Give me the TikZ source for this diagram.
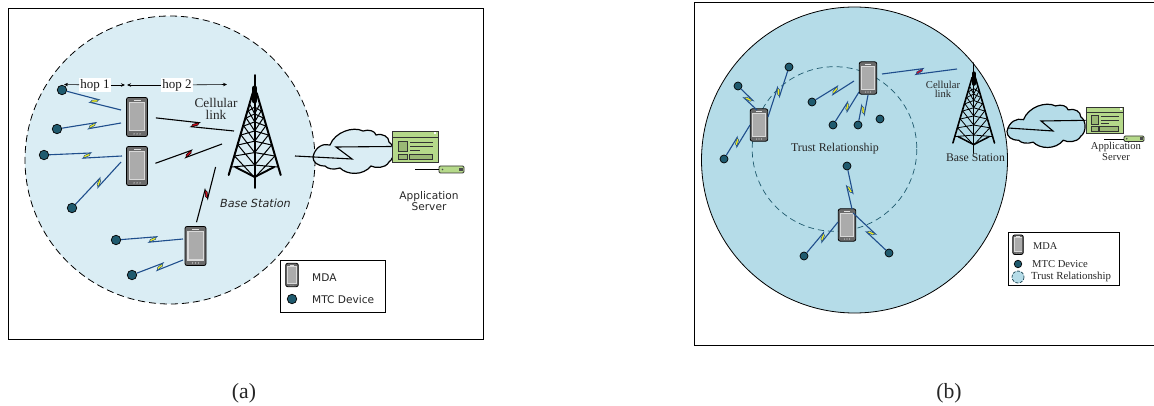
\documentclass[tikz,border=0pt]{standalone}
\usepackage{fontspec}
\setmainfont{Liberation Serif}
\newfontfamily\djv{DejaVu Sans}
\usetikzlibrary{calc,arrows.meta}
\definecolor{skya}{HTML}{DAEDF4}
\definecolor{skyb}{HTML}{B5DCE8}
\definecolor{devc}{HTML}{1F5A6E}
\definecolor{lnkb}{HTML}{1F4E8C}
\definecolor{srv}{HTML}{B5D98A}
\definecolor{yel}{HTML}{F5F020}
\definecolor{rd}{HTML}{D01020}
\newcommand{\fs}[1]{\fontsize{#1}{#1}\selectfont}
\tikzset{
  panel/.style={draw=black,line width=0.9pt},
  device/.style={circle,draw=black,line width=0.7pt,fill=devc,inner sep=0pt,minimum size=#1},
  phonebody/.style={draw=black,line width=0.8pt,fill=black!58,rounded corners=2pt,inner sep=0pt},
  bluelink/.style={draw=lnkb,line width=1.1pt},
  blacklink/.style={draw=black,line width=1.1pt},
  hoparrow/.style={-{Stealth[length=4pt,width=3.5pt]},line width=0.6pt},
  cloudshape/.style={draw=black,line width=1.2pt},
  jag/.style={draw=black,line width=1.1pt},
  lab/.style={inner sep=0pt,align=center,text=black!85},
  labl/.style={inner sep=0pt,anchor=west,text=black!85},
  legendbox/.style={draw=black,line width=0.8pt,fill=white},
}
% phone: name, x, y, scale
\newcommand{\phone}[4]{%
  \node[phonebody,minimum width=21pt*#4,minimum height=39pt*#4] (#1) at (#2,#3) {};
  \begin{scope}[shift={(#2,#3)},scale=#4]
    \fill[white!85!black] (-8.4,-15) rectangle (8.4,14.5);
    \fill[black!33] (-7,-13.7) rectangle (7,13);
    \fill[white!88!black] (-3.5,-17.3) rectangle (3.5,-16);
    \foreach \q in {-3,0,3} \fill[white!85!black] (\q,16.9) circle (0.65);
  \end{scope}}
% tower: x, y of the top, scale
\newcommand{\tower}[3]{%
  \begin{scope}[shift={(#1,#2)},scale=#3,line cap=round]
    \draw[line width=1.6pt*#3] (0,0) -- (0,113);
    \draw[line width=5pt*#3] (0,13) -- (0,26);
    \draw[line width=2pt*#3] (-2,18) -- (-26,100);
    \draw[line width=2pt*#3] (2,18) -- (26,100);
    \draw[line width=1.9pt*#3] (-19.5,92) -- (0,102) -- (19.5,92);
    \foreach \a/\b in {30/36,36/43,43/51,51/60,60/70,70/81,81/92}{
      \pgfmathsetmacro{\wa}{3+(\a-25)*23/75}
      \pgfmathsetmacro{\wb}{3+(\b-25)*23/75}
      \pgfmathsetmacro{\ca}{\a+0.45*\wa}
      \pgfmathsetmacro{\cb}{\b+0.45*\wb}
      \draw[line width=1pt*#3] (-\wa,\a) -- (0,\cb) (0,\ca) -- (-\wb,\b);
      \draw[line width=1pt*#3] (\wa,\a) -- (0,\cb) (0,\ca) -- (\wb,\b);
    }
  \end{scope}}
% cloud: x, y of top-left, x scale, y scale, fill
\newcommand{\cloud}[5]{%
  \begin{scope}[shift={(#1,#2)},xscale=#3,yscale=#4]
    \draw[cloudshape,fill=#5] (0,29) .. controls (2,19) and (10,15) .. (17,17)
      .. controls (22,4) and (40,-2) .. (50,3)
      .. controls (56,1) and (62,3) .. (63,7)
      .. controls (70,5) and (76,9) .. (76,14)
      .. controls (82,18) and (82,30) .. (76,34)
      .. controls (72,41) and (62,40) .. (58,38)
      .. controls (50,48) and (34,47) .. (27,40)
      .. controls (20,42) and (15,41) .. (12,38)
      .. controls (4,38) and (0,34) .. (0,29) -- cycle;
  \end{scope}}
% server window: name, x, y of top-left, x scale, y scale
\newcommand{\serverwin}[5]{%
  \node[draw=black!80,line width=0.9pt,fill=srv,inner sep=0pt,minimum width=46pt*#4,minimum height=31pt*#5] (#1) at ({#2+23*#4},{#3+15.5*#5}) {};
  \begin{scope}[shift={(#2,#3)},xscale=#4,yscale=#5,draw=black!80,line width=0.6pt]
    \draw (0,6) -- (46,6);
    \draw[fill=srv!85!black] (6,10) rectangle (15,20);
    \draw[line width=0.8pt] (18,11) -- (41,11) (18,15.5) -- (41,15.5);
    \draw[line width=0.8pt] (18,19) -- (28,19);
    \draw[fill=srv!85!black] (6,23) rectangle (15,28);
    \draw[fill=srv!85!black] (17,23) rectangle (40,28);
    \fill[white] (42,1.5) rectangle (44,3.5);
  \end{scope}}
% small server unit: x, y of top-left, w, h
\newcommand{\srvunit}[4]{%
  \draw[draw=black!80,line width=0.9pt,fill=srv,rounded corners=1.2pt] (#1,#2) rectangle ({#1+#3},{#2+#4});
  \fill[black!70] ({#1+#3*0.8},{#2+#4*0.25}) rectangle ({#1+#3*0.95},{#2+#4*0.75});
  \fill[black!70] ({#1+#3*0.14},{#2+#4*0.5}) circle (0.9);}
% lightning link: [style], from, to, position, fill
\newcommand{\blink}[5][]{%
  \coordinate (bM) at ($(#2)!#4!(#3)$);
  \coordinate (bF) at ($(bM)!3.5pt!(#3)$);
  \coordinate (bR) at ($(bM)!-3.5pt!(#3)$);
  \coordinate (bP) at ($(bF)!2.6pt!90:(#3)$);
  \coordinate (bQ) at ($(bR)!2.6pt!-90:(#3)$);
  \coordinate (bX) at ($(bM)!2.6pt!(#3)$);
  \coordinate (bY) at ($(bM)!-2.6pt!(#3)$);
  \draw[#1] (#2) -- (bP) -- (bQ) -- (#3);
  \filldraw[#1,shorten <=0pt,line width=0.5pt,fill=#5] (bP) -- (bX) -- (bQ) -- (bY) -- cycle;}
\begin{document}
\begin{tikzpicture}[x=1pt,y=-1pt]
\useasboundingbox (0,0) rectangle (1154,406);
% ---------- panel a
\draw[panel] (8.5,8) rectangle (483,339);
\fill[skya] (170,160) ellipse [x radius=145pt,y radius=144pt];
\draw[line width=0.8pt,dash pattern=on 7pt off 4pt] (170,160) ellipse [x radius=145pt,y radius=144pt];
\cloud{313}{128}{1}{1}{skya}
\tower{254.7}{75}{1}
\serverwin{srva}{392}{131}{1}{1}
\coordinate (ja1) at (295,156);
\coordinate (ja2) at (352,159);
\coordinate (ja3) at (336,147);
\draw[jag] (ja1) -- (ja2) -- (ja3) -- (srva.west);
\coordinate (sa) at (415,169);
\srvunit{439}{166}{25}{7}
\coordinate (sae) at (439,169);
\draw[line width=0.7pt] (sa) -- (sae);
\foreach \n/\x/\y in {da1/62/90,da2/57/129,da3/44/155,da4/72/208,da5/116/240,da6/132/275}
  \node[device=9.5pt] (\n) at (\x,\y) {};
\phone{pa1}{137}{117}{1}
\phone{pa2}{137}{166}{1}
\phone{pa3}{195.5}{246}{1}
\coordinate (ea1) at (121,110);
\coordinate (ea2) at (121,123);
\coordinate (ea3) at (122,156);
\coordinate (ea4) at (121,162);
\coordinate (ea5) at (183,239);
\coordinate (ea6) at (183,260);
\blink[bluelink]{da1}{ea1}{.55}{yel}
\blink[bluelink]{da2}{ea2}{.55}{yel}
\blink[bluelink]{da3}{ea3}{.55}{yel}
\blink[bluelink]{da4}{ea4}{.55}{yel}
\blink[bluelink]{da5}{ea5}{.55}{yel}
\blink[bluelink]{da6}{ea6}{.55}{yel}
\coordinate (ta1) at (234,131);
\coordinate (ta2) at (222,144);
\coordinate (ta3) at (215.6,167);
\blink[blacklink,shorten <=8pt]{pa1.east}{ta1}{.55}{rd}
\blink[blacklink,shorten <=8pt]{pa2.east}{ta2}{.55}{rd}
\blink[blacklink,shorten <=4pt]{pa3.north}{ta3}{.54}{rd}
% hop labels
\node[fill=white,inner sep=1pt,text=black!90] (hop1) at (95,85) {\fs{13}hop 1};
\node[fill=white,inner sep=1pt,text=black!90] (hop2) at (177,85) {\fs{13}hop 2};
\coordinate (h1l) at (64,84.5);
\coordinate (h1r) at (125,85);
\coordinate (h2l) at (127,85);
\coordinate (h2r) at (227,84.5);
\draw[hoparrow] (hop1) -- (h1l);
\draw[hoparrow] (hop1) -- (h1r);
\draw[hoparrow] (hop2) -- (h2l);
\draw[hoparrow] (hop2) -- (h2r);
\node[lab,font=\fontsize{13.3}{11.5}\selectfont] (cella) at (216,109) {Cellular\\link};
\node[lab,font=\djv\fontsize{11.2}{12}\selectfont\itshape] (bsa) at (255.5,203) {Base Station};
\node[lab,font=\djv\fontsize{10.6}{10}\selectfont] (asa) at (429,201.5) {Application\\Server};
% legend a
\node[legendbox,minimum width=104.7pt,minimum height=52.5pt,inner sep=0pt] (lega) at (332.6,286.2) {};
\phone{lap}{292}{275}{0.6}
\node[device=9.5pt] (lad) at (292,299) {};
\node[labl] (lat1) at (312,278) {\djv\fs{10.6}MDA};
\node[labl] (lat2) at (312,300) {\djv\fs{10.6}MTC Device};
\node[lab] (capa) at (244,393.5) {\fs{21.7}(a)};
% ---------- panel b
\draw[panel] (1154,2) -- (694,2) -- (694,345) -- (1154,345);
\fill[skyb] (854.5,160) circle (153);
\draw[line width=0.8pt] (854.5,160) circle (153);
\draw[draw=devc,line width=0.7pt,dash pattern=on 6pt off 4pt] (834.5,149) circle (82.3);
\cloud{1007}{103}{0.97}{0.98}{skyb}
\tower{973.7}{63}{0.8}
\serverwin{srvb}{1086}{107}{0.81}{0.86}
\coordinate (jb1) at (1008,128);
\coordinate (jb2) at (1053,131);
\coordinate (jb3) at (1041,121);
\draw[jag] (jb1) -- (jb2) -- (jb3) -- (srvb.west);
\coordinate (sb) at (1104,139);
\srvunit{1124}{136}{20}{5.5}
\coordinate (sbe) at (1124,139);
\draw[line width=0.7pt] (sb) -- (sbe);
\foreach \n/\x/\y in {db1/789/67,db2/738/86,db3/724/159,db4/812/102,db5/833/125,db6/858/125,db7/880/119,db8/847/166,db9/804/256,db10/889/253}
  \node[device=8pt] (\n) at (\x,\y) {};
\phone{pb1}{868}{78}{0.83}
\phone{pb2}{759}{125}{0.83}
\phone{pb3}{847}{225}{0.83}
\coordinate (eb1) at (768,117);
\coordinate (eb2) at (757,110);
\coordinate (eb3) at (750,125);
\coordinate (eb4) at (854,81);
\coordinate (eb5) at (859,92);
\coordinate (eb6) at (868,95);
\coordinate (eb8) at (852,209);
\coordinate (eb9) at (838,222);
\coordinate (eb10) at (853,213);
\blink[bluelink]{db1}{eb1}{.5}{yel}
\blink[bluelink]{db2}{eb2}{.55}{yel}
\blink[bluelink]{db3}{eb3}{.5}{yel}
\blink[bluelink]{db4}{eb4}{.55}{yel}
\blink[bluelink]{db5}{eb5}{.55}{yel}
\blink[bluelink]{db6}{eb6}{.5}{yel}
\blink[bluelink]{db8}{eb8}{.55}{yel}
\blink[bluelink]{db9}{eb9}{.55}{yel}
\blink[bluelink]{db10}{eb10}{.5}{yel}
\coordinate (sc1) at (882,74);
\coordinate (sc2) at (957,69);
\blink[bluelink]{sc1}{sc2}{.5}{rd}
\node[lab,font=\fontsize{10.6}{9.5}\selectfont] (cellb) at (943,89.5) {Cellular\\link};
\node[lab] (bsb) at (975.5,158) {\fs{11.7}Base Station};
\node[lab] (trb) at (835,149) {\fs{11.9}Trust Relationship};
\node[lab,font=\fontsize{10.6}{9}\selectfont] (asb) at (1116,151.5) {Application\\Server};
% legend b
\node[legendbox,minimum width=111pt,minimum height=53pt,inner sep=0pt] (legb) at (1063.5,258.5) {};
\phone{lbp}{1018}{244.7}{0.5}
\node[device=7.5pt] (lbd) at (1018,264) {};
\draw[draw=devc!70!black,fill=skyb,line width=0.7pt,dash pattern=on 3pt off 1.5pt] (1018,277) circle (6);
\node[labl] (lbt1) at (1033,246) {\fs{10.4}MDA};
\node[labl] (lbt2) at (1032,264.5) {\fs{10.6}MTC Device};
\node[labl] (lbt3) at (1031,276.5) {\fs{10.8}Trust Relationship};
\node[lab] (capb) at (949,393.5) {\fs{21.7}(b)};
\end{tikzpicture}
\end{document}
